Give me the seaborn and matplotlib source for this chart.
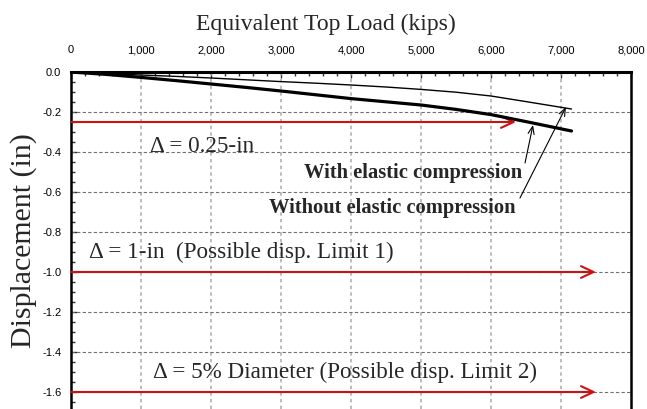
import numpy as np
import pandas as pd
import matplotlib
matplotlib.use("Agg")
import matplotlib.pyplot as plt
import seaborn as sns
from matplotlib.ticker import FixedLocator, MultipleLocator

# Load-displacement curves (kips, in)
load_with = [0, 500, 1000, 1500, 2000, 2500, 3000, 3500, 4000, 4500, 5000, 5500, 6000, 6500, 7150]
disp_with = [0, -0.012, -0.027, -0.043, -0.060, -0.077, -0.095, -0.114, -0.133, -0.149,
             -0.165, -0.187, -0.213, -0.248, -0.295]
load_without = [0, 500, 1000, 1500, 2000, 2500, 3000, 3500, 4000, 4500, 5000, 5500, 6000, 6500, 7150]
disp_without = [0, -0.008, -0.015, -0.022, -0.030, -0.039, -0.048, -0.056, -0.065, -0.075,
                -0.087, -0.101, -0.120, -0.148, -0.185]

# Displacement limits (in) and the load where each marker arrow stops (kips)
limit_disp = [-0.25, -1.0, -1.6]
limit_end = [6357, 7500, 7500]

x_ticks = [0, 1000, 2000, 3000, 4000, 5000, 6000, 7000, 8000]
x_tick_labels = ["0", "1,000", "2,000", "3,000", "4,000", "5,000", "6,000", "7,000", "8,000"]
y_ticks = [0.0, -0.2, -0.4, -0.6, -0.8, -1.0, -1.2, -1.4, -1.6]
y_tick_labels = ["0.0", "-0.2", "-0.4", "-0.6", "-0.8", "-1.0", "-1.2", "-1.4", "-1.6"]

sns.set_style("white")
plt.rcParams["font.family"] = ["Liberation Serif", "DejaVu Serif"]
plt.rcParams["axes.unicode_minus"] = False

W, H = 647, 409
fig = plt.figure(figsize=(W / 100, H / 100), dpi=100)
ax = fig.add_axes([71 / W, 0.0, 560 / W, 1 - 72 / H])

df_with = pd.DataFrame({"load": load_with, "disp": disp_with})
df_without = pd.DataFrame({"load": load_without, "disp": disp_without})
sns.lineplot(data=df_with, x="load", y="disp", ax=ax, color="black", lw=2.3,
             estimator=None, sort=False, zorder=4)
sns.lineplot(data=df_without, x="load", y="disp", ax=ax, color="black", lw=1.0,
             estimator=None, sort=False, zorder=4)

ax.set_xlim(0, 8000)
ax.set_ylim(-1.685, 0)
ax.set_xlabel("")
ax.set_ylabel("")

# Axis frame: top, left and right drawn, bottom open
for side in ("top", "left", "right"):
    ax.spines[side].set_visible(True)
    ax.spines[side].set_color("black")
ax.spines["top"].set_linewidth(2.2)
ax.spines["left"].set_linewidth(1.8)
ax.spines["right"].set_linewidth(1.8)
ax.spines["bottom"].set_visible(False)

ax.xaxis.tick_top()
ax.xaxis.set_major_locator(FixedLocator(x_ticks))
ax.set_xticklabels(x_tick_labels)
ax.xaxis.set_minor_locator(MultipleLocator(200))
ax.yaxis.set_major_locator(FixedLocator(y_ticks))
ax.set_yticklabels(y_tick_labels)
ax.yaxis.set_minor_locator(MultipleLocator(0.05))

ax.tick_params(axis="x", which="both", direction="in", top=True, bottom=False,
               labeltop=True, labelbottom=False)
ax.tick_params(axis="y", which="both", direction="in", left=True, right=False)
ax.tick_params(which="major", length=4, width=1.0, color="#333333")
ax.tick_params(which="minor", length=3, width=1.0, color="#333333")
ax.tick_params(axis="x", which="major", pad=12)
ax.tick_params(axis="y", which="major", pad=7)
for lab in ax.get_xticklabels() + ax.get_yticklabels():
    lab.set_fontfamily("Liberation Sans")
    lab.set_fontsize(8)
    lab.set_color("black")

# Grid: light dashed verticals, darker dashed horizontals
ax.grid(False)
for xv in x_ticks[1:-1]:
    ax.axvline(xv, color="#b0b0b0", lw=1.2, ls=(0, (2, 2)), zorder=1)
for yv in y_ticks[1:]:
    ax.axhline(yv, color="#707070", lw=0.8, ls=(0, (3, 2)), zorder=1)

# Red limit arrows
red = "#cc1111"
for yv, xe in zip(limit_disp, limit_end):
    ax.annotate("", xy=(xe, yv), xytext=(0, yv),
                arrowprops=dict(arrowstyle="->,head_length=0.9,head_width=0.42",
                                color=red, lw=1.5, mutation_scale=10,
                                shrinkA=0, shrinkB=0),
                zorder=3)

fs = 16.7
ax.text(1129, -0.398, "\u0394 = 0.25-in", fontsize=fs, ha="left", va="baseline")
ax.text(257, -0.93, "\u0394 = 1-in  (Possible disp. Limit 1)", fontsize=fs,
        ha="left", va="baseline")
ax.text(1171, -1.53, "\u0394 = 5% Diameter (Possible disp. Limit 2)", fontsize=fs,
        ha="left", va="baseline")

ax.text(6443, -0.53, "With elastic compression", fontsize=14.8, fontweight="bold",
        ha="right", va="baseline")
ax.text(6343, -0.705, "Without elastic compression", fontsize=14.8, fontweight="bold",
        ha="right", va="baseline")

small_arrow = dict(arrowstyle="->,head_length=0.55,head_width=0.22", color="black",
                   lw=0.8, mutation_scale=10, shrinkA=0, shrinkB=0)
ax.annotate("", xy=(6600, -0.265), xytext=(6486, -0.455), arrowprops=small_arrow, zorder=5)
ax.annotate("", xy=(7071, -0.175), xytext=(6414, -0.63), arrowprops=small_arrow, zorder=5)

fig.text(326 / W, 1 - 30 / H, "Equivalent Top Load (kips)", fontsize=17,
         ha="center", va="baseline")
fig.text(24 / W, 1 - 241 / H, "Displacement (in)", fontsize=21.5, rotation=90,
         ha="center", va="center")

fig.savefig("out.png", dpi=100)
